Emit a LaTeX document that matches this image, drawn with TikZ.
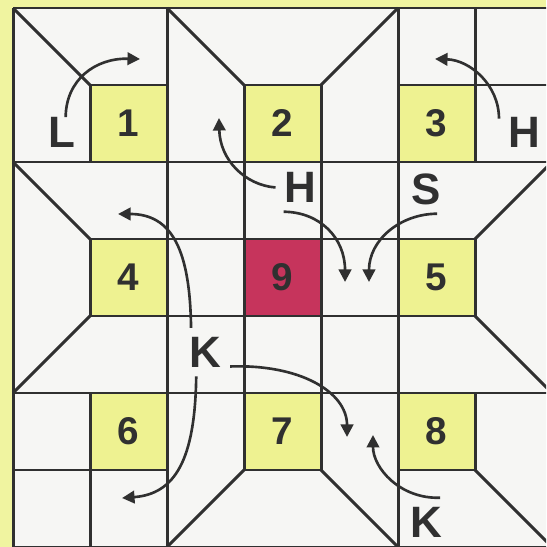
\documentclass[tikz,border=0pt]{standalone}
\usepackage{fontspec}
\setmainfont{Liberation Sans}
\usetikzlibrary{arrows.meta}

\definecolor{ink}{RGB}{48,48,48}
\definecolor{paper}{RGB}{246,246,244}
\definecolor{margin}{RGB}{240,244,160}
\definecolor{patchyellow}{RGB}{238,242,145}
\definecolor{patchred}{RGB}{198,52,92}

\begin{document}
\begin{tikzpicture}[
  x=1.54cm, y=-1.54cm,
  seam/.style={draw=ink, line width=1.7pt},
  arrow/.style={-{Triangle[length=2.5mm, width=2.5mm]}, draw=ink, line width=1.5pt},
  patch/.style={rectangle, fill=patchyellow, minimum size=1.54cm, inner sep=0pt, text=ink, font=\fontsize{22}{22}\selectfont\bfseries},
  letter/.style={inner sep=5pt, text=ink, font=\fontsize{25}{25}\selectfont\bfseries}
]

  % Page: yellow margin, paper inside the quilt
  \clip (-0.169,-0.104) rectangle (6.922,7.0);
  \fill[margin] (-0.169,-0.104) rectangle (6.922,7.0);
  \fill[paper] (0,0) rectangle (7,7);

  % Numbered patches
  \node (sq1) [patch] at (1.5,1.5) {1};
  \node (sq2) [patch] at (3.5,1.5) {2};
  \node (sq3) [patch] at (5.5,1.5) {3};
  \node (sq4) [patch] at (1.5,3.5) {4};
  \node (sq9) [patch, fill=patchred] at (3.5,3.5) {9};
  \node (sq5) [patch] at (5.5,3.5) {5};
  \node (sq6) [patch] at (1.5,5.5) {6};
  \node (sq7) [patch] at (3.5,5.5) {7};
  \node (sq8) [patch] at (5.5,5.5) {8};

  % Seams (horizontal, vertical, diagonal)
  \draw[seam] (0,0) -- (7,0) (1,1) -- (2,1) (3,1) -- (4,1) (5,1) -- (7,1)
    (0,2) -- (7,2) (1,3) -- (6,3) (1,4) -- (6,4) (0,5) -- (7,5)
    (0,6) -- (2,6) (3,6) -- (4,6) (5,6) -- (6,6) (0,7) -- (7,7);
  \draw[seam] (0,0) -- (0,7) (1,1) -- (1,2) (1,3) -- (1,4) (1,5) -- (1,7)
    (2,0) -- (2,7) (3,1) -- (3,6) (4,1) -- (4,6) (5,0) -- (5,7)
    (6,0) -- (6,2) (6,3) -- (6,4) (6,5) -- (6,6);
  \draw[seam] (0,0) -- (1,1) (2,0) -- (3,1) (4,1) -- (5,0)
    (0,2) -- (1,3) (0,5) -- (1,4) (6,3) -- (7,2) (6,4) -- (7,5)
    (3,6) -- (2,7) (4,6) -- (5,7) (6,6) -- (7,7);

  % Letters
  \node (L) [letter, inner sep=0pt] at (0.630,1.617) {L};
  \node (H1) [letter] at (3.734,2.331) {H};
  \node (S) [letter] at (5.364,2.351) {S};
  \node (H2) [letter] at (6.636,1.610) {H};
  \node (K1) [letter] at (2.494,4.468) {K};
  \node (K2) [letter] at (5.364,6.675) {K};

  % Arrow tips
  \coordinate (l_tip) at (1.649,0.662);
  \coordinate (h_up_tip) at (2.675,1.429);
  \coordinate (h_down_tip) at (4.312,3.558);
  \coordinate (s_tip) at (4.623,3.558);
  \coordinate (k_up_tip) at (1.364,2.675);
  \coordinate (k_down_tip) at (1.416,6.364);
  \coordinate (k_right_tip) at (4.338,5.571);
  \coordinate (k_low_tip) at (4.675,5.545);
  \coordinate (h_right_tip) at (5.481,0.662);

  % Connections
  \draw[arrow] (L.75) .. controls (0.688,0.935) and (1.065,0.649) .. (l_tip);
  \draw[arrow] (H1.west) .. controls (3.013,2.299) and (2.688,1.974) .. (h_up_tip);
  \draw[arrow] (H1.-125) .. controls (3.987,2.649) and (4.312,2.987) .. (h_down_tip);
  \draw[arrow] (S.-66) .. controls (5.026,2.675) and (4.623,3.013) .. (s_tip);
  \draw[arrow] (K1.120) .. controls (2.299,3.143) and (2.065,2.675) .. (k_up_tip);
  \draw[arrow] (K1.-110) .. controls (2.364,5.870) and (2.104,6.312) .. (k_down_tip);
  \draw[arrow] (K1.-30) .. controls (3.727,4.623) and (4.338,4.987) .. (k_right_tip);
  \draw[arrow] (K2.60) .. controls (5.026,6.377) and (4.675,5.974) .. (k_low_tip);
  \draw[arrow] (H2.152) .. controls (6.312,1.0) and (5.935,0.675) .. (h_right_tip);

\end{tikzpicture}
\end{document}
